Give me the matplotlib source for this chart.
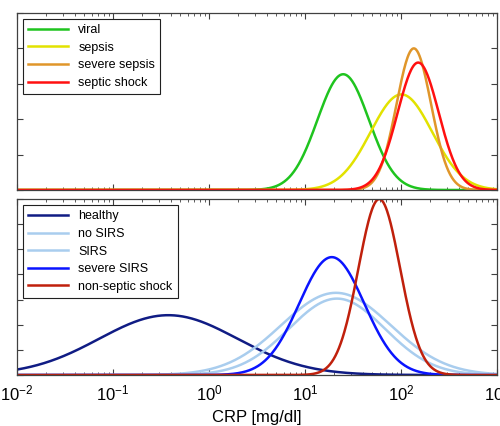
import numpy as np
import matplotlib
matplotlib.use('Agg')
import matplotlib.pyplot as plt
from matplotlib.ticker import LogLocator, NullFormatter, MultipleLocator

plt.rcParams['font.family'] = ['Liberation Sans', 'DejaVu Sans']

# top panel: sepsis groups (median CRP, log10 spread, peak height)
top_labels = ['viral', 'sepsis', 'severe sepsis', 'septic shock']
top_median = [25.0, 101.0, 136.0, 151.0]
top_sd = [0.268, 0.321, 0.180, 0.214]
top_peak = [3.27, 2.70, 4.00, 3.60]
top_colors = ['#1fc41f', '#e2e200', '#e0962a', '#ff1010']

# bottom panel: SIRS groups
bot_labels = ['healthy', 'no SIRS', 'SIRS', 'severe SIRS', 'non-septic shock']
bot_median = [0.377, 21.0, 21.5, 19.0, 59.4]
bot_sd = [0.72, 0.57, 0.50, 0.339, 0.217]
bot_peak = [2.38, 3.27, 3.04, 4.69, 7.0]
bot_colors = ['#101c84', '#a9cdee', '#a9cdee', '#0a14ff', '#c0200c']

x = np.logspace(-2, 3, 800)

def dens(med, sd, peak):
    return peak * np.exp(-0.5 * ((np.log10(x) - np.log10(med)) / sd) ** 2)

fig = plt.figure(figsize=(5, 4.26), dpi=100)
ax1 = fig.add_axes([0.034, 0.554, 0.96, 0.4155])
ax2 = fig.add_axes([0.034, 0.1197, 0.96, 0.413])

for lab, m, s, p, c in zip(top_labels, top_median, top_sd, top_peak, top_colors):
    ax1.plot(x, dens(m, s, p), color=c, lw=1.8, label=lab)
for lab, m, s, p, c in zip(bot_labels, bot_median, bot_sd, bot_peak, bot_colors):
    ax2.plot(x, dens(m, s, p), color=c, lw=1.8, label=lab)

for ax, ytop in [(ax1, 5), (ax2, 7)]:
    ax.set_xscale('log')
    ax.set_xlim(1e-2, 1e3)
    ax.set_ylim(0, ytop)
    ax.yaxis.set_major_locator(MultipleLocator(1))
    ax.set_yticklabels([])
    ax.xaxis.set_major_locator(LogLocator(base=10, numticks=10))
    ax.xaxis.set_minor_locator(LogLocator(base=10, subs=np.arange(2, 10), numticks=20))
    ax.xaxis.set_minor_formatter(NullFormatter())
    ax.tick_params(which='both', direction='in', top=True, right=True,
                   color='#404040')
    ax.tick_params(which='major', length=4)
    ax.tick_params(which='minor', length=2)
    for sp in ax.spines.values():
        sp.set_color('#404040')
        sp.set_linewidth(0.9)
    leg = ax.legend(loc='upper left', fontsize=9, frameon=True, fancybox=False,
                    framealpha=1, edgecolor='#202020', handlelength=3.2,
                    labelspacing=0.45, borderaxespad=0.5, borderpad=0.4)
    leg.get_frame().set_linewidth(0.8)

ax1.set_xticklabels([])
ax2.tick_params(axis='x', which='major', labelsize=12, pad=6)
ax2.set_xlabel('CRP [mg/dl]', fontsize=12, labelpad=5)

fig.savefig('out.png', dpi=100)
